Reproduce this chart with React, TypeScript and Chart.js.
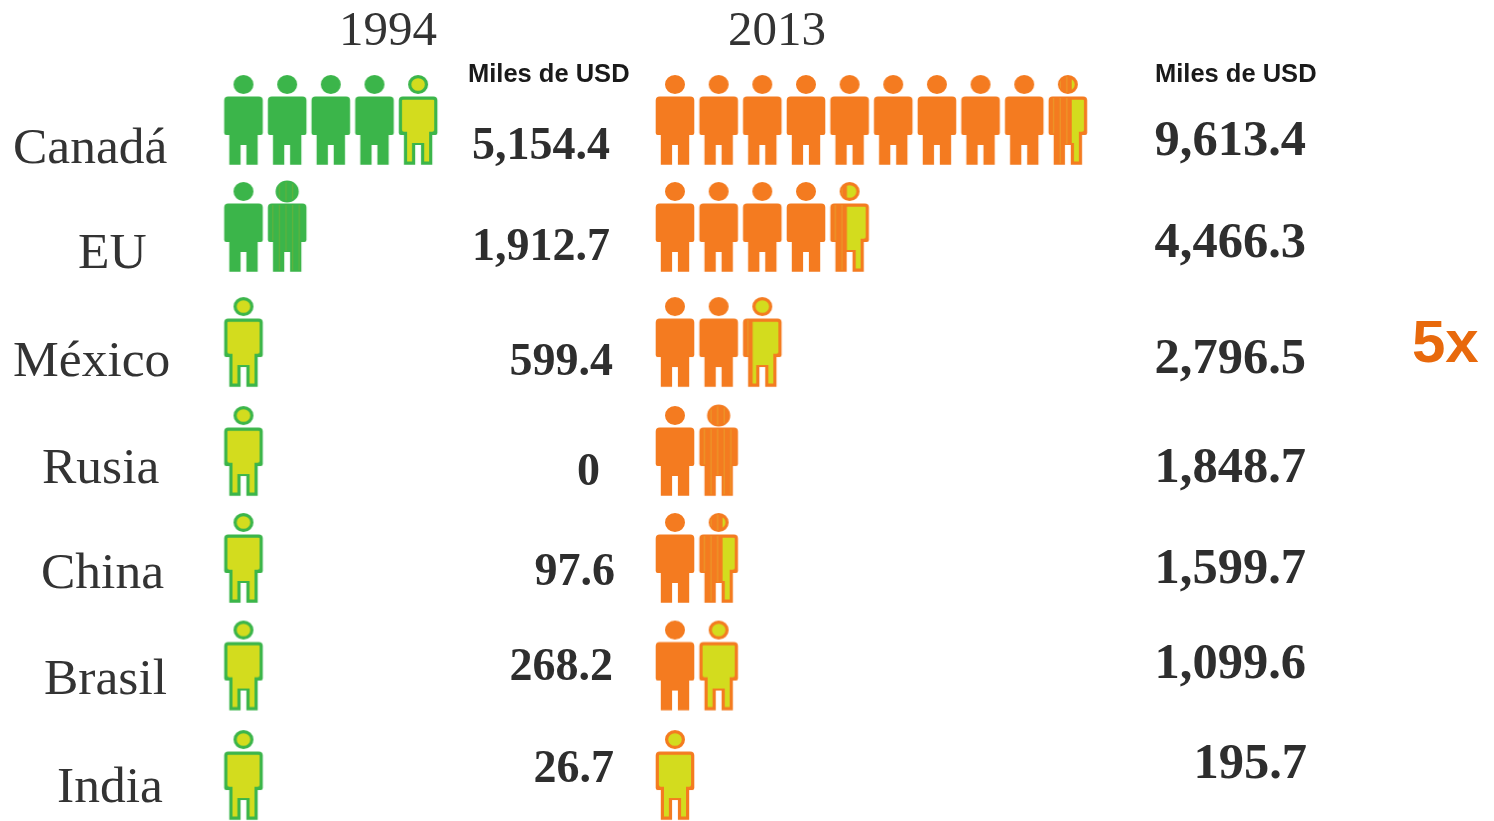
import React, { useEffect, useRef } from "react";
import { Chart, registerables } from "chart.js";

Chart.register(...registerables);

// ---- data ----
const categories = ["Canadá", "EU", "México", "Rusia", "China", "Brasil", "India"];
const years = ["1994", "2013"];
const unitLabel = "Miles de USD";
const callout = "5x";
const labels1994 = ["5,154.4", "1,912.7", "599.4", "0", "97.6", "268.2", "26.7"];
const labels2013 = ["9,613.4", "4,466.3", "2,796.5", "1,848.7", "1,599.7", "1,099.6", "195.7"];
// Solid icons in each row
const fullIcons1994 = [4, 1, 0, 0, 0, 0, 0];
const fullIcons2013 = [9, 4, 2, 1, 1, 1, 0];
// Striped share of the last icon in each row (the rest of it is yellow)
const lastIconShare1994 = [0, 1, 0, 0, 0, 0, 0];
const lastIconShare2013 = [0.6, 0.43, 0.25, 1, 0.6, 0, 0];

// ---- layout and style ----
const W = 1494;
const H = 821;
const ICON_STEP = 43.65;
const FIRST_X = { a: 243.5, b: 675 };
const ROW_FIRST_Y = 120;
const ROW_STEP = 109.17;
const ROW_NUDGE = [0, -0.02, 0.034, 0.032, 0.012, -0.003, 0];
const GREEN = "#3bb54a";
const GREEN_STRIPE = "#63b33c";
const ORANGE = "#f47b20";
const ORANGE_STRIPE = "#ec9a2a";
const YELLOW = "#d3dc1e";
const TEXT = "#333333";
const SERIF = '"Liberation Serif", serif';
const SANS = '"Liberation Sans", sans-serif';
const labelPos = [
  [13, 163], [78, 268], [13, 376], [42, 483], [41, 588], [44, 694], [57, 802],
];
const value1994Pos = [
  [610, 159], [610, 260], [613, 375], [600, 485], [615, 585], [613, 680], [614, 782],
];
const value2013Pos = [
  [1306, 155], [1306, 257], [1306, 373], [1306, 482], [1306, 583], [1306, 678], [1307, 778],
];

function personPath(c: CanvasRenderingContext2D, cx: number, d: number, headBoost: number) {
  // canvas-local person outline, inset by d
  const top = 3;
  const r = Math.max(1, 4 - d);
  const sx = 19.3 - d;
  const lx = 14.2 - d;
  const gx = 2.9 + d;
  const sy = top + 21.5 + d;
  const ay = top + 60 - d;
  const by = top + 89.7 - d;
  const gy = top + 70 - d * 0.6;
  c.beginPath();
  c.moveTo(cx - sx + r, sy);
  c.lineTo(cx + sx - r, sy);
  c.quadraticCurveTo(cx + sx, sy, cx + sx, sy + r);
  c.lineTo(cx + sx, ay - 2);
  c.quadraticCurveTo(cx + sx, ay, cx + sx - 2, ay);
  c.lineTo(cx + lx, ay);
  c.lineTo(cx + lx, by);
  c.lineTo(cx + gx, by);
  c.lineTo(cx + gx, gy);
  c.lineTo(cx - gx, gy);
  c.lineTo(cx - gx, by);
  c.lineTo(cx - lx, by);
  c.lineTo(cx - lx, ay);
  c.lineTo(cx - sx + 2, ay);
  c.quadraticCurveTo(cx - sx, ay, cx - sx, ay - 2);
  c.lineTo(cx - sx, sy + r);
  c.quadraticCurveTo(cx - sx, sy, cx - sx + r, sy);
  c.closePath();
  const rx = Math.max(1, 10 - d + headBoost);
  const ry = Math.max(1, 9.5 - d + headBoost);
  c.moveTo(cx + rx, top + 9.5);
  c.ellipse(cx, top + 9.5, rx, ry, 0, 0, Math.PI * 2);
  c.closePath();
}

function makeIcon(base: string, stripe: string, share: number | null): HTMLCanvasElement {
  // share === null: solid. Otherwise striped up to share, yellow after it.
  const cv = document.createElement("canvas");
  cv.width = 46;
  cv.height = 96;
  const c = cv.getContext("2d")!;
  const cx = 23;
  (c as any).filter = "blur(0.7px)";
  c.fillStyle = base;
  const boost = share === 1 ? 1.6 : 0;
  personPath(c, cx, 0, boost);
  c.fill();
  if (share !== null) {
    const left = cx - 19.3;
    const split = left + 38.6 * share;
    c.save();
    personPath(c, cx, 1.5, boost);
    c.clip();
    c.beginPath();
    c.rect(0, 0, split, 96);
    c.clip();
    c.strokeStyle = stripe;
    c.lineWidth = 1.2;
    for (let x = left + 5; x < split - 1; x += 6.6) {
      c.beginPath();
      c.moveTo(x, 0);
      c.lineTo(x, 96);
      c.stroke();
    }
    c.restore();
    c.save();
    c.beginPath();
    c.rect(split, 0, 46 - split, 96);
    c.clip();
    c.fillStyle = YELLOW;
    personPath(c, cx, 3.2, 0);
    c.fill();
    c.restore();
  }
  return cv;
}

function buildPanel(full: number[], share: number[], base: string, stripe: string) {
  const solid = makeIcon(base, stripe, null);
  const data: { x: number; y: number }[] = [];
  const styles: HTMLCanvasElement[] = [];
  full.forEach((n, row) => {
    const y = row + ROW_NUDGE[row];
    for (let i = 0; i < n; i++) {
      data.push({ x: i, y });
      styles.push(solid);
    }
    data.push({ x: n, y });
    styles.push(makeIcon(base, stripe, share[row]));
  });
  return { data, styles };
}

const textPlugin = {
  id: "pictogramText",
  afterDatasetsDraw(chart: any) {
    const c: CanvasRenderingContext2D = chart.ctx;
    c.save();
    c.textBaseline = "alphabetic";
    c.fillStyle = TEXT;
    c.textAlign = "left";
    c.font = `51.5px ${SERIF}`;
    categories.forEach((t, i) => c.fillText(t, labelPos[i][0], labelPos[i][1]));
    c.font = `49px ${SERIF}`;
    c.fillText(years[0], 339, 45);
    c.fillText(years[1], 728, 45);
    c.fillStyle = "#1a1a1a";
    c.font = `bold 25.5px ${SANS}`;
    c.fillText(unitLabel, 468, 82);
    c.fillText(unitLabel, 1155, 82);
    c.fillStyle = "#2e2e2e";
    c.textAlign = "right";
    c.font = `bold 46px ${SERIF}`;
    labels1994.forEach((t, i) => c.fillText(t, value1994Pos[i][0], value1994Pos[i][1]));
    c.font = `bold 50.5px ${SERIF}`;
    labels2013.forEach((t, i) => c.fillText(t, value2013Pos[i][0], value2013Pos[i][1]));
    c.textAlign = "left";
    c.fillStyle = "#e8690c";
    c.font = `bold 60px ${SANS}`;
    c.fillText(callout, 1412, 362);
    c.restore();
  },
};

export default function App() {
  const ref = useRef<HTMLCanvasElement>(null);
  useEffect(() => {
    document.body.style.background = "#ffffff";
    const p94 = buildPanel(fullIcons1994, lastIconShare1994, GREEN, GREEN_STRIPE);
    const p13 = buildPanel(fullIcons2013, lastIconShare2013, ORANGE, ORANGE_STRIPE);
    const xAxis = (first: number) => ({
      type: "linear" as const,
      display: false,
      min: -first / ICON_STEP,
      max: (W - first) / ICON_STEP,
    });
    const chart = new Chart(ref.current!, {
      type: "scatter",
      data: {
        datasets: [
          {
            label: years[0],
            data: p94.data,
            xAxisID: "x94",
            pointStyle: p94.styles as any,
            pointRadius: 20,
            clip: false,
          },
          {
            label: years[1],
            data: p13.data,
            xAxisID: "x13",
            pointStyle: p13.styles as any,
            pointRadius: 20,
            clip: false,
          },
        ],
      },
      options: {
        animation: false,
        responsive: false,
        layout: { padding: 0, autoPadding: false },
        plugins: { legend: { display: false }, tooltip: { enabled: false } },
        scales: {
          x94: xAxis(FIRST_X.a),
          x13: xAxis(FIRST_X.b),
          y: {
            type: "linear",
            display: false,
            reverse: true,
            min: -ROW_FIRST_Y / ROW_STEP,
            max: (H - ROW_FIRST_Y) / ROW_STEP,
          },
        },
      },
      plugins: [textPlugin],
    });
    return () => chart.destroy();
  }, []);
  return (
    <div style={{ position: "fixed", left: 0, top: 0, width: W, height: H, background: "#fff" }}>
      <canvas ref={ref} width={W} height={H} style={{ display: "block" }} />
    </div>
  );
}
